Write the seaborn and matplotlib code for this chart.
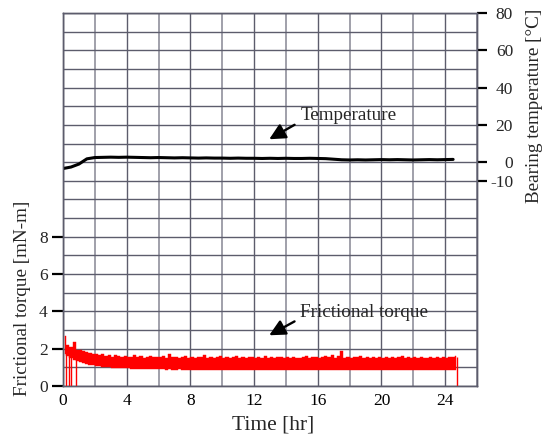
import numpy as np
import matplotlib
matplotlib.use("Agg")
import matplotlib.pyplot as plt
from matplotlib.ticker import MultipleLocator, FixedLocator
import seaborn as sns

# torque samples (every 0.2 hr, 0.1 .. 24.7), upper / lower edge of the noisy band
torque_time = np.round(np.arange(0.1, 24.71, 0.2), 1)
torque_hi = [
    2.70, 2.20, 2.10, 2.38, 1.95, 1.92, 1.85, 1.82, 1.76, 1.74,
    1.70, 1.66, 1.72, 1.62, 1.64, 1.58, 1.66, 1.60, 1.56, 1.62,
    1.58, 1.54, 1.68, 1.55, 1.60, 1.52, 1.57, 1.62, 1.53, 1.58,
    1.55, 1.60, 1.52, 1.70, 1.54, 1.58, 1.50, 1.56, 1.62, 1.52,
    1.55, 1.50, 1.58, 1.53, 1.66, 1.52, 1.56, 1.50, 1.55, 1.60,
    1.52, 1.56, 1.50, 1.54, 1.62, 1.51, 1.55, 1.50, 1.58, 1.53,
    1.50, 1.56, 1.52, 1.60, 1.51, 1.55, 1.49, 1.57, 1.53, 1.50,
    1.55, 1.51, 1.58, 1.52, 1.49, 1.56, 1.62, 1.50, 1.54, 1.58,
    1.52, 1.56, 1.60, 1.53, 1.66, 1.51, 1.62, 1.86, 1.52, 1.58,
    1.50, 1.56, 1.53, 1.60, 1.51, 1.55, 1.50, 1.57, 1.52, 1.54,
    1.49, 1.55, 1.52, 1.58, 1.50, 1.54, 1.62, 1.51, 1.55, 1.50,
    1.53, 1.49, 1.56, 1.52, 1.50, 1.55, 1.51, 1.57, 1.52, 1.54,
    1.50, 1.58, 1.53, 1.60,
]
torque_lo = [
    1.72, 1.62, 1.52, 1.42, 1.34, 1.28, 1.22, 1.18, 1.14, 1.10,
    1.08, 1.05, 1.03, 1.01, 1.00, 0.98, 0.97, 0.96, 0.95, 0.94,
    0.94, 0.93, 0.92, 0.93, 0.91, 0.92, 0.90, 0.91, 0.90, 0.89,
    0.90, 0.89, 0.88, 0.90, 0.88, 0.87, 0.89, 0.88, 0.87, 0.88,
    0.86, 0.88, 0.87, 0.86, 0.88, 0.86, 0.87, 0.85, 0.87, 0.86,
    0.85, 0.87, 0.86, 0.84, 0.86, 0.85, 0.87, 0.85, 0.84, 0.86,
    0.85, 0.84, 0.86, 0.85, 0.87, 0.84, 0.85, 0.86, 0.84, 0.85,
    0.86, 0.84, 0.85, 0.87, 0.84, 0.86, 0.85, 0.84, 0.86, 0.85,
    0.84, 0.86, 0.85, 0.84, 0.86, 0.85, 0.84, 0.85, 0.86, 0.84,
    0.85, 0.84, 0.86, 0.85, 0.84, 0.86, 0.85, 0.84, 0.85, 0.86,
    0.84, 0.85, 0.86, 0.84, 0.85, 0.84, 0.86, 0.85, 0.84, 0.85,
    0.86, 0.84, 0.85, 0.84, 0.86, 0.85, 0.84, 0.85, 0.86, 0.84,
    0.85, 0.84, 0.86, 0.85,
]
# short drop-outs of the torque signal to zero
dropout_time = [0.2, 0.35, 0.5, 0.8, 24.75]
dropout_top = [2.2, 2.0, 1.9, 1.8, 1.55]

# bearing temperature (every 0.5 hr)
temp_time = np.arange(0, 24.51, 0.5)
temp_values = [
    -3.4, -2.6, -1.0, 1.8, 2.5, 2.6, 2.7, 2.6, 2.7, 2.6,
    2.5, 2.4, 2.5, 2.4, 2.3, 2.4, 2.3, 2.2, 2.3, 2.2,
    2.2, 2.1, 2.2, 2.1, 2.1, 2.0, 2.1, 2.0, 2.1, 2.0,
    2.0, 2.1, 2.0, 1.9, 1.6, 1.3, 1.2, 1.3, 1.2, 1.3,
    1.4, 1.3, 1.4, 1.3, 1.2, 1.3, 1.4, 1.3, 1.4, 1.5,
]

x_ticks = [0, 4, 8, 12, 16, 20, 24]
torque_ticks = [0, 2, 4, 6, 8]
temp_ticks = [-10, 0, 20, 40, 60, 80]

sns.set_theme(style="white")
plt.rcParams['font.family'] = ['Liberation Serif', 'DejaVu Serif']
plt.rcParams['axes.unicode_minus'] = False

grid_dark = '#5c5c6c'
grid_light = '#a0a0aa'

fig = plt.figure(figsize=(5.49, 4.42), dpi=100)
ax = fig.add_axes([63 / 549, 56 / 442, 414 / 549, 373 / 442])
ax2 = ax.twinx()

# torque band
ax.fill_between(torque_time, torque_lo, torque_hi, step='mid', color='red',
                linewidth=0.3, edgecolor='red', zorder=3)
ax.vlines(dropout_time, 0, dropout_top, color='red', linewidth=1.0, zorder=3)

# temperature line
sns.lineplot(x=temp_time, y=temp_values, ax=ax2, color='black', linewidth=2.2)

ax.set_xlim(0, 26)
ax.set_ylim(0, 20)
ax2.set_ylim(-120, 80)

ax.xaxis.set_major_locator(FixedLocator(x_ticks))
ax.xaxis.set_minor_locator(MultipleLocator(2))
ax.yaxis.set_major_locator(FixedLocator(torque_ticks))
ax.yaxis.set_minor_locator(MultipleLocator(1))
ax2.yaxis.set_major_locator(FixedLocator(temp_ticks))

ax.grid(False)
ax2.grid(False)
ax.set_axisbelow(True)
ax.xaxis.grid(True, which='major', color=grid_dark, linewidth=1.0)
ax.xaxis.grid(True, which='minor', color=grid_light, linewidth=1.4)
ax.yaxis.grid(True, which='both', color=grid_dark, linewidth=1.0)

for a in (ax, ax2):
    for s in a.spines.values():
        s.set_color(grid_dark)
        s.set_linewidth(1.0)

ax.tick_params(axis='x', which='both', length=0, pad=5, labelsize=12.5, colors='black')
ax.tick_params(axis='y', which='major', left=True, length=8, width=1.6, pad=3,
               labelsize=12.5, color='black')
ax.tick_params(axis='y', which='minor', left=False, length=0)
ax2.tick_params(axis='y', right=True, length=7, width=1.6, pad=19,
                labelsize=12.5, color='black')
for lab in ax2.get_yticklabels():
    lab.set_ha('right')

ax.set_xlabel('Time [hr]', fontsize=15.5)
ax.set_ylabel('Frictional torque [mN-m]', fontsize=13.8)
ax2.set_ylabel('Bearing temperature [\u00b0C]', fontsize=13.8)
ax.xaxis.label.set_va('center')
ax.yaxis.label.set_va('center')
ax2.yaxis.label.set_va('center')
ax.xaxis.set_label_coords(0.507, -0.105)
ax.yaxis.set_label_coords(-0.097, 0.236)
ax2.yaxis.set_label_coords(1.138, 0.751)

arrow = dict(arrowstyle='-|>,head_length=0.7,head_width=0.35', color='black',
             linewidth=1.7, shrinkA=2, shrinkB=0, relpos=(0, 0.15))
ax2.annotate('Temperature', xy=(12.95, 12.3), xytext=(14.9, 25.0),
             fontsize=13.8, ha='left', va='center', arrowprops=arrow, zorder=5)
ax.annotate('Frictional torque', xy=(12.95, 2.72), xytext=(14.9, 3.95),
            fontsize=13.8, ha='left', va='center', arrowprops=arrow, zorder=5)

fig.savefig('out.png', dpi=100)
